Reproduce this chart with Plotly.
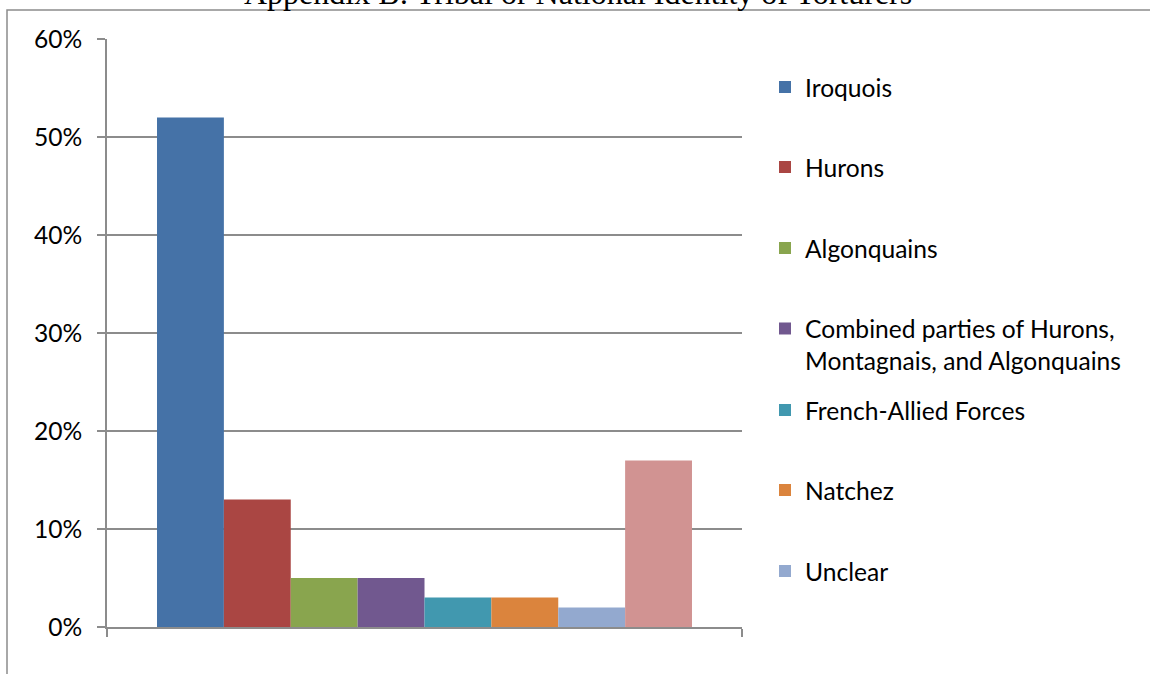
import plotly.graph_objects as go

# Share of torture accounts by the identity of the torturers
groups = [
    "Iroquois",
    "Hurons",
    "Algonquains",
    "Combined parties of Hurons,<br>Montagnais, and Algonquains",
    "French-Allied Forces",
    "Natchez",
    "Unclear",
    "Other",
]
shares = [0.52, 0.13, 0.05, 0.05, 0.03, 0.03, 0.02, 0.17]
colors = ["#4572A7", "#AA4643", "#89A54E", "#71588F",
          "#4198AF", "#DB843D", "#93A9CF", "#D19392"]
in_legend = [True, True, True, True, True, True, True, False]
y_ticks = [0, 0.1, 0.2, 0.3, 0.4, 0.5, 0.6]

W, H = 1150, 674
L, R, T, B = 107, 742, 39, 627          # plot area in pixels
pw, ph = R - L, B - T

def px_x(x):
    return (x - L) / pw

def px_y(y):
    return (B - y) / ph

FONT = "Lato"
GRID = "#8c8c8c"
FS = 24.6

fig = go.Figure()
legend_centres = [87, 167, 248, 344.5, 410, 490, 571]
layout_legends = {}
li = 0
for name, val, col, show in zip(groups, shares, colors, in_legend):
    kw = {}
    if show:
        key = "legend" if li == 0 else f"legend{li + 1}"
        kw["legend"] = key
        layout_legends[key] = dict(
            x=px_x(765), xanchor="left",
            y=px_y(legend_centres[li]), yanchor="middle",
            font=dict(family=FONT, size=FS, color="#000"),
            bgcolor="rgba(0,0,0,0)", borderwidth=0, valign="top",
        )
        li += 1
    fig.add_trace(go.Bar(
        x=[""], y=[val], name=name, showlegend=show,
        marker=dict(color=col, line=dict(width=0)), **kw,
    ))

fig.update_layout(
    width=W, height=H,
    margin=dict(l=L, r=W - R, t=T, b=H - B, autoexpand=False),
    paper_bgcolor="white", plot_bgcolor="white",
    barmode="group", bargap=0.1575, bargroupgap=0,
    font=dict(family=FONT, size=FS, color="#000"),
    **layout_legends,
)

fig.update_yaxes(
    range=[0, 0.6], tickvals=y_ticks, tickformat=".0%",
    showgrid=True, gridcolor=GRID, gridwidth=1.5, zeroline=False,
    showline=True, linecolor=GRID, linewidth=1.5,
    ticks="outside", ticklen=8, tickcolor=GRID, tickwidth=1.5,
    ticklabelstandoff=10,
    tickfont=dict(family=FONT, size=FS, color="#000"),
)
fig.update_xaxes(
    showline=True, linecolor=GRID, linewidth=1.5,
    ticks="outside", ticklen=8, tickcolor=GRID, tickwidth=1.5,
    tickson="boundaries", showticklabels=False, showgrid=False,
)

# Surrounding frame of the chart object
fig.add_shape(type="rect", xref="paper", yref="paper",
              x0=px_x(7), x1=px_x(1160), y0=px_y(690), y1=px_y(10),
              line=dict(color=GRID, width=1.5), fillcolor="rgba(0,0,0,0)",
              layer="below")

# Heading above the chart
fig.add_annotation(
    text="Appendix B: Tribal or National Identity of Torturers",
    xref="paper", yref="paper", x=px_x(578), y=px_y(13),
    xanchor="center", yanchor="bottom", showarrow=False,
    font=dict(family="Liberation Serif", size=32, color="#000"),
)

fig.write_html("out.html")
